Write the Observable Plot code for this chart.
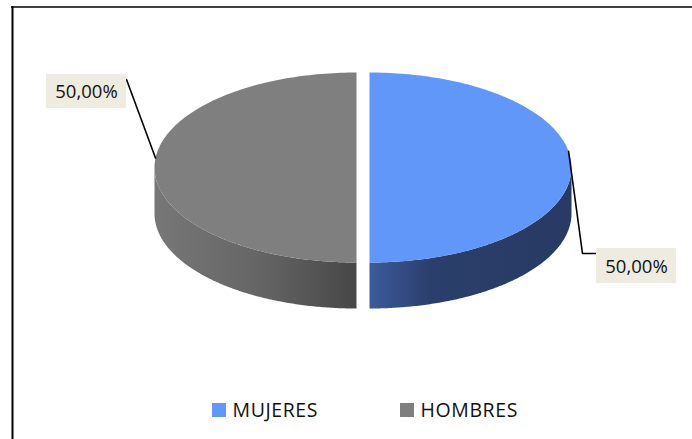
<!DOCTYPE html>
<html>
<head>
<meta charset="utf-8">
<script src="https://cdn.jsdelivr.net/npm/d3@7"></script>
<script src="https://cdn.jsdelivr.net/npm/@observablehq/plot@0.6"></script>
<style>
  html, body { margin: 0; padding: 0; background: #fff; }
  #chart svg { display: block; }
</style>
</head>
<body>
<div id="chart"></div>
<script>
// ---- data ----
const categories = ["MUJERES", "HOMBRES"];
const values = [50, 50];
const labels = ["50,00%", "50,00%"];
const topColors = ["#6297FA", "#7F7F7F"];

// ---- layout ----
const W = 692, H = 439;
const cx = 362.5, cy = 167, rx = 202, ry = 95, depth = 46, explode = 6.5;
const FONT = "'Open Sans', sans-serif";

const arcs = d3.pie().sort(null)(values);
const pt = (a, ox, oy, dz = 0) => ({x: ox + rx * Math.sin(a), y: oy - ry * Math.cos(a) + dz});
const arcPts = (a0, a1, ox, oy, dz = 0) => {
  const n = 160, out = [];
  for (let k = 0; k <= n; k++) out.push(pt(a0 + (a1 - a0) * k / n, ox, oy, dz));
  return out;
};

const slices = arcs.map((d, i) => {
  const mid = (d.startAngle + d.endAngle) / 2;
  const ox = cx + explode * Math.sin(mid);
  const oy = cy - explode * Math.cos(mid) * ry / rx;
  const top = [{x: ox, y: oy}, ...arcPts(d.startAngle, d.endAngle, ox, oy), {x: ox, y: oy}];
  const s0 = Math.max(d.startAngle, Math.PI / 2), s1 = Math.min(d.endAngle, 3 * Math.PI / 2);
  const side = s1 > s0 ? [...arcPts(s0, s1, ox, oy), ...arcPts(s1, s0, ox, oy, depth)] : [];
  return {i, mid, ox, oy, top, side};
});

// label leader layout (angle of anchor on rim, elbow/box offsets)
const labelLayout = [
  {angle: arcs[0].startAngle + 1.40, box: {x1: 596, x2: 676, y1: 248, y2: 283}, elbow: [582, 253], end: [596, 253]},
  {angle: arcs[1].endAngle - 1.47, box: {x1: 46, x2: 126, y1: 74, y2: 108}, elbow: null, end: [126, 79]}
];
const leaders = labelLayout.map((L, i) => {
  const s = slices[i];
  const a = pt(L.angle, s.ox, s.oy);
  const pts = [a];
  if (L.elbow) pts.push({x: L.elbow[0], y: L.elbow[1]});
  pts.push({x: L.end[0], y: L.end[1]});
  return pts.map(p => ({...p, id: i}));
});
const boxes = labelLayout.map((L, i) => ({...L.box, label: labels[i]}));

// legend
const legendItems = categories.map((c, i) => ({
  name: c, color: topColors[i],
  x1: [212, 400][i], x2: [226, 414][i], y1: 403, y2: 417, tx: [232, 420][i], ty: 410.5
}));

const sideFills = ["url(#sideBlue)", "url(#sideGrey)"];
const marks = [];
slices.forEach((s, i) => {
  if (s.side.length) marks.push(Plot.line(s.side, {x: "x", y: "y", fill: sideFills[i], stroke: "none", curve: "linear"}));
});
slices.forEach((s, i) => {
  marks.push(Plot.line(s.top, {x: "x", y: "y", fill: topColors[i], stroke: "none", curve: "linear"}));
});

const svg = Plot.plot({
  width: W, height: H, margin: 0,
  style: {fontFamily: FONT, background: "#fff"},
  x: {domain: [0, W], range: [0, W], axis: null},
  y: {domain: [0, H], range: [0, H], axis: null},
  marks: [
    // frame
    Plot.ruleY([6.5], {x1: 11, x2: W, stroke: "#000", strokeWidth: 1.5}),
    Plot.ruleX([12], {y1: 6, y2: H, stroke: "#000", strokeWidth: 2}),
    ...marks,
    // leaders
    ...leaders.map(l => Plot.line(l, {x: "x", y: "y", stroke: "#000", strokeWidth: 1.6, curve: "linear"})),
    // label boxes
    Plot.rect(boxes, {x1: "x1", x2: "x2", y1: "y1", y2: "y2", fill: "#EEECE1"}),
    Plot.text(boxes, {x: d => (d.x1 + d.x2) / 2, y: d => (d.y1 + d.y2) / 2 + 1, text: "label",
      fontSize: 18.5, fill: "#111", textAnchor: "middle", lineAnchor: "middle"}),
    // legend
    Plot.rect(legendItems, {x1: "x1", x2: "x2", y1: "y1", y2: "y2", fill: "color"}),
    Plot.text(legendItems, {x: "tx", y: "ty", text: "name", fontSize: 19.5, fill: "#111",
      textAnchor: "start", lineAnchor: "middle"})
  ],
  color: {type: "identity"}
});

// gradients for the side walls
const defs = d3.select(svg).insert("defs", ":first-child");
const g1 = defs.append("linearGradient").attr("id", "sideBlue").attr("x1", 0).attr("x2", 1).attr("y1", 0).attr("y2", 0);
[[0, "#3C5B9C"], [0.3, "#2B3F6C"], [1, "#283A63"]].forEach(([o, c]) => g1.append("stop").attr("offset", o).attr("stop-color", c));
const g2 = defs.append("linearGradient").attr("id", "sideGrey").attr("x1", 0).attr("x2", 1).attr("y1", 0).attr("y2", 0);
[[0, "#777777"], [0.5, "#666666"], [1, "#474747"]].forEach(([o, c]) => g2.append("stop").attr("offset", o).attr("stop-color", c));

// slightly wider legend lettering, as in the reference
d3.select(svg).selectAll("text").filter(function () { return categories.includes(this.textContent); })
  .style("letter-spacing", "0.6px");

document.getElementById("chart").appendChild(svg);
</script>
</body>
</html>
